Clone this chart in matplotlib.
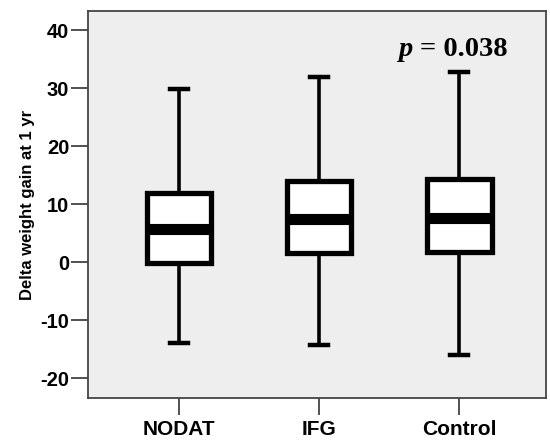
import matplotlib
matplotlib.use("Agg")
import matplotlib.pyplot as plt

categories = ["NODAT", "IFG", "Control"]
whislo = [-13.9, -14.3, -16.0]
q1 = [-0.1, 1.6, 1.7]
med = [5.7, 7.5, 7.7]
q3 = [12.0, 14.0, 14.3]
whishi = [29.8, 31.9, 32.8]
yticks = [-20, -10, 0, 10, 20, 30, 40]
p_label = "= 0.038"

plt.rcParams['font.family'] = ['Liberation Sans', 'DejaVu Sans']

fig = plt.figure(figsize=(5.5, 4.4), dpi=100)
ax = fig.add_axes([0.16, 0.0955, 0.833, 0.8795])
ax.set_facecolor('#eeeeee')

stats = []
for i, c in enumerate(categories):
    stats.append(dict(label=c, whislo=whislo[i], q1=q1[i], med=med[i],
                      q3=q3[i], whishi=whishi[i], fliers=[]))

ax.bxp(stats, positions=[1, 2, 3], widths=0.46, patch_artist=True,
       showfliers=False, capwidths=0.13,
       boxprops=dict(facecolor='white', edgecolor='black', linewidth=3.8),
       medianprops=dict(color='black', linewidth=8, solid_capstyle='butt'),
       whiskerprops=dict(color='black', linewidth=2.6),
       capprops=dict(color='black', linewidth=3.2))

ax.set_xlim(0.35, 3.62)
ax.set_ylim(-23.4, 43.3)
ax.set_yticks(yticks)
ax.set_yticklabels([str(t) for t in yticks], fontsize=14.5, fontweight='bold')
ax.set_xticks([1, 2, 3])
ax.set_xticklabels(categories, fontsize=15, fontweight='bold')
ax.tick_params(axis='both', length=12, width=1.2, color='#333333')
ax.tick_params(axis='y', pad=1.5)
ax.tick_params(axis='x', pad=4)
for s in ax.spines.values():
    s.set_color('#444444')
    s.set_linewidth(1.3)
ax.set_ylabel("Delta weight gain at 1 yr", fontsize=12, fontweight='bold', labelpad=4)

ax.annotate("p", xy=(2.72, 35.5), xytext=(-5.5, 0), textcoords='offset points',
            ha='right', va='baseline', fontsize=20.5, fontweight='bold', fontstyle='italic',
            family='Liberation Serif')
ax.annotate(p_label, xy=(2.72, 35.5), ha='left', va='baseline', fontsize=20.5,
            fontweight='bold', family='Liberation Serif')

fig.savefig("out.png", dpi=100)
